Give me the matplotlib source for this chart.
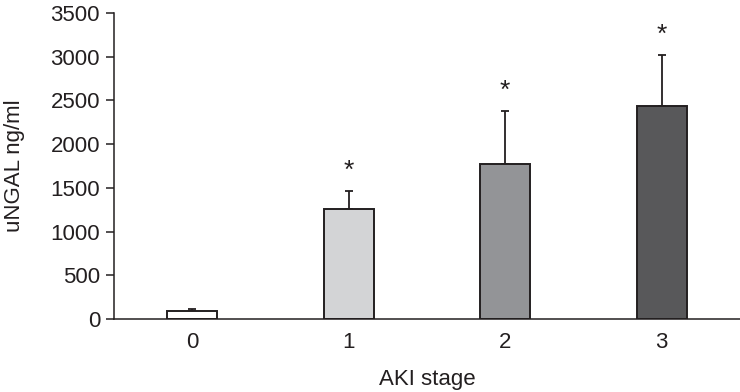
import matplotlib.pyplot as plt
import numpy as np

plt.rcParams['font.family'] = ['Liberation Sans', 'DejaVu Sans']

# Data
stages = ['0', '1', '2', '3']
means = [95, 1255, 1775, 2440]
sd_upper = [15, 215, 600, 575]
significant = [False, True, True, True]
colors = ['#ffffff', '#d3d4d6', '#939497', '#58585a']
edge = '#231f20'

fig = plt.figure(figsize=(7.4, 3.92), dpi=100)
ax = fig.add_axes([0.154, 0.186, 0.846, 0.781])

x = np.arange(len(stages))
ax.bar(x, means, width=0.32, color=colors, edgecolor=edge, linewidth=1.4, zorder=2)
ax.errorbar(x, means, yerr=[np.zeros(len(means)), sd_upper], fmt='none',
            ecolor=edge, elinewidth=1.3, capsize=3, capthick=1.3, zorder=1)

# significance stars
for xi, m, e, s in zip(x, means, sd_upper, significant):
    if s:
        ax.text(xi, m + e + 230, '*', ha='center', va='center', fontsize=19, color=edge)

ax.set_xlim(-0.5, 3.5)
ax.set_ylim(0, 3500)
ax.set_yticks(np.arange(0, 3501, 500))
ax.set_xticks(x)
ax.set_xticklabels(stages)
ax.tick_params(axis='x', length=0, pad=9, labelsize=16, colors='#231f20')
ax.tick_params(axis='y', length=6, width=1.1, pad=4, labelsize=16, colors='#231f20')

for side in ['top', 'right']:
    ax.spines[side].set_visible(False)
for side in ['left', 'bottom']:
    ax.spines[side].set_linewidth(1.1)
    ax.spines[side].set_color('#231f20')

ax.set_xlabel('AKI stage', fontsize=16, labelpad=12, color='#231f20')
ax.set_ylabel('uNGAL ng/ml', fontsize=16, labelpad=18, color='#231f20')

plt.savefig('out.png', dpi=100)
